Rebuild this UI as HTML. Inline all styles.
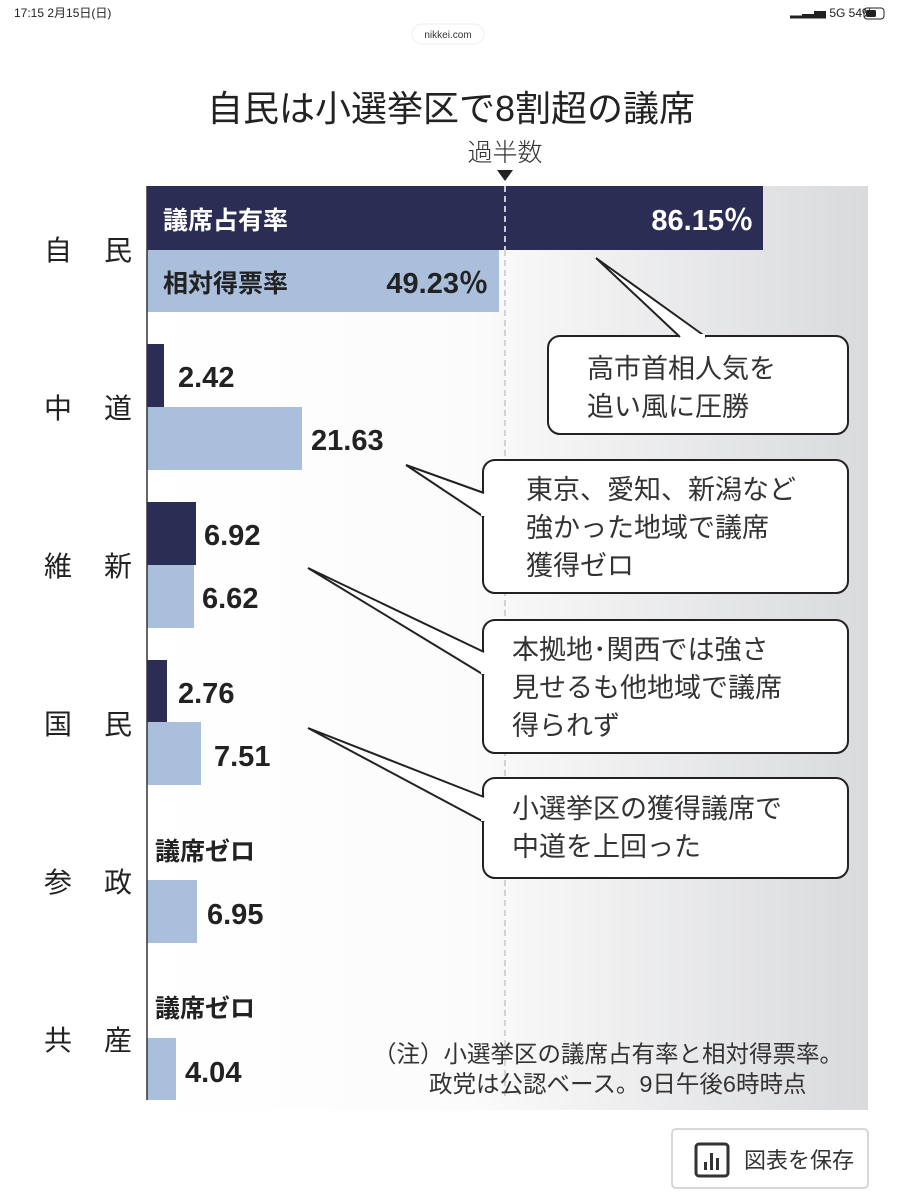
<!DOCTYPE html>
<html><head><meta charset="utf-8"><style>
html,body{margin:0;padding:0;background:#fff;}
svg{display:block;}
text{font-family:"Liberation Sans","Noto Sans CJK JP",sans-serif;}
</style></head><body>
<svg width="900" height="1200" viewBox="0 0 900 1200" xmlns="http://www.w3.org/2000/svg">
<defs>
<linearGradient id="g" x1="0" x2="1" y1="0" y2="0">
<stop offset="0" stop-color="#ffffff"/><stop offset="0.45" stop-color="#fbfbfb"/><stop offset="1" stop-color="#d9dadd"/>
</linearGradient>
</defs>
<rect width="900" height="1200" fill="#fff"/>
<text x="14" y="17" font-size="12" fill="#222">17:15  2月15日(日)</text>
<text x="790" y="17" font-size="12" fill="#222">▂▃▅ 5G 54%</text>
<rect x="864" y="8" width="20" height="11" rx="3" fill="none" stroke="#222" stroke-width="1"/>
<rect x="866" y="10" width="10" height="7" rx="1.5" fill="#222"/>
<rect x="412" y="24" width="72" height="20" rx="10" fill="#fff" stroke="#eee"/>
<text x="448" y="38" font-size="10" fill="#333" text-anchor="middle">nikkei.com</text>

<rect x="147" y="186" width="721" height="924" fill="url(#g)"/>
<text x="451" y="121" font-size="36" fill="#222" text-anchor="middle">自民は小選挙区で8割超の議席</text>
<text x="505" y="161" font-size="25" fill="#333" text-anchor="middle" font-weight="300">過半数</text>
<polygon points="497,170 513,170 505,181" fill="#222"/>

<rect x="147" y="186" width="616" height="64" fill="#2b2d55"/>
<rect x="147" y="250" width="352" height="62" fill="#a9bfdc"/>
<rect x="147" y="344" width="17" height="63" fill="#2b2d55"/>
<rect x="147" y="407" width="155" height="63" fill="#a9bfdc"/>
<rect x="147" y="502" width="49" height="63" fill="#2b2d55"/>
<rect x="147" y="565" width="47" height="63" fill="#a9bfdc"/>
<rect x="147" y="660" width="20" height="62" fill="#2b2d55"/>
<rect x="147" y="722" width="54" height="63" fill="#a9bfdc"/>
<rect x="147" y="880" width="50" height="63" fill="#a9bfdc"/>
<rect x="147" y="1038" width="29" height="62" fill="#a9bfdc"/>
<line x1="147" y1="186" x2="147" y2="1100" stroke="#333" stroke-width="1.5"/>
<line x1="505" y1="186" x2="505" y2="250" stroke="#fff" stroke-width="1.5" stroke-dasharray="6,4"/>
<line x1="505" y1="250" x2="505" y2="1100" stroke="#bbb" stroke-width="1.2" stroke-dasharray="6,4"/>

<g font-weight="bold" font-size="25">
<text x="163" y="229" fill="#fff">議席占有率</text>
<text x="753" y="230" fill="#fff" text-anchor="end" font-size="29">86.15％</text>
<text x="163" y="292" fill="#222">相対得票率</text>
<text x="488" y="293" fill="#222" text-anchor="end" font-size="29">49.23％</text>
<g font-size="29" fill="#222">
<text x="178" y="387">2.42</text>
<text x="311" y="450">21.63</text>
<text x="204" y="545">6.92</text>
<text x="202" y="608">6.62</text>
<text x="178" y="703">2.76</text>
<text x="214" y="766">7.51</text>
<text x="207" y="924">6.95</text>
<text x="185" y="1082">4.04</text>
</g>
<text x="155" y="860" fill="#222">議席ゼロ</text>
<text x="155" y="1017" fill="#222">議席ゼロ</text>
</g>

<g font-size="28" fill="#222">
<text x="44" y="260">自</text><text x="104" y="260">民</text>
<text x="44" y="418">中</text><text x="104" y="418">道</text>
<text x="44" y="576">維</text><text x="104" y="576">新</text>
<text x="44" y="734">国</text><text x="104" y="734">民</text>
<text x="44" y="892">参</text><text x="104" y="892">政</text>
<text x="44" y="1050">共</text><text x="104" y="1050">産</text>
</g>

<g fill="#fff" stroke="#222" stroke-width="2" stroke-linejoin="round">
<rect x="548" y="336" width="300" height="98" rx="12"/>
<rect x="483" y="460" width="365" height="133" rx="12"/>
<rect x="483" y="620" width="365" height="133" rx="12"/>
<rect x="483" y="778" width="365" height="100" rx="12"/>
</g>
<g fill="#fff" stroke="#222" stroke-width="2">
<polyline points="680,337 596,258 706,337"/>
<polyline points="484,493 406,465 484,517"/>
<polyline points="484,652 308,568 484,675"/>
<polyline points="484,797 308,728 484,822"/>
</g>
<g fill="#fff">
<rect x="681" y="334" width="24" height="5"/>
<rect x="481" y="494" width="5" height="22"/>
<rect x="481" y="653" width="5" height="21"/>
<rect x="481" y="798" width="5" height="23"/>
</g>
<g font-size="27" fill="#333">
<text x="587" y="378">高市首相人気を</text>
<text x="587" y="416">追い風に圧勝</text>
<text x="526" y="499">東京、愛知、新潟など</text>
<text x="526" y="537">強かった地域で議席</text>
<text x="526" y="575">獲得ゼロ</text>
<text x="512" y="659">本拠地･関西では強さ</text>
<text x="512" y="697">見せるも他地域で議席</text>
<text x="512" y="735">得られず</text>
<text x="512" y="818">小選挙区の獲得議席で</text>
<text x="512" y="856">中道を上回った</text>
</g>

<g font-size="23.5" fill="#333">
<text x="373" y="1062">（注）小選挙区の議席占有率と相対得票率。</text>
<text x="429" y="1092">政党は公認ベース。9日午後6時時点</text>
</g>

<rect x="672" y="1129" width="196" height="59" rx="4" fill="#fff" stroke="#ccc" stroke-width="1.5"/>
<rect x="696" y="1144" width="32" height="32" rx="3" fill="none" stroke="#333" stroke-width="3"/>
<rect x="704" y="1162" width="3" height="8" fill="#333"/>
<rect x="710" y="1153" width="3" height="17" fill="#333"/>
<rect x="716" y="1158" width="3" height="12" fill="#333"/>
<text x="744" y="1168" font-size="22" fill="#333">図表を保存</text>
</svg>
</body></html>
